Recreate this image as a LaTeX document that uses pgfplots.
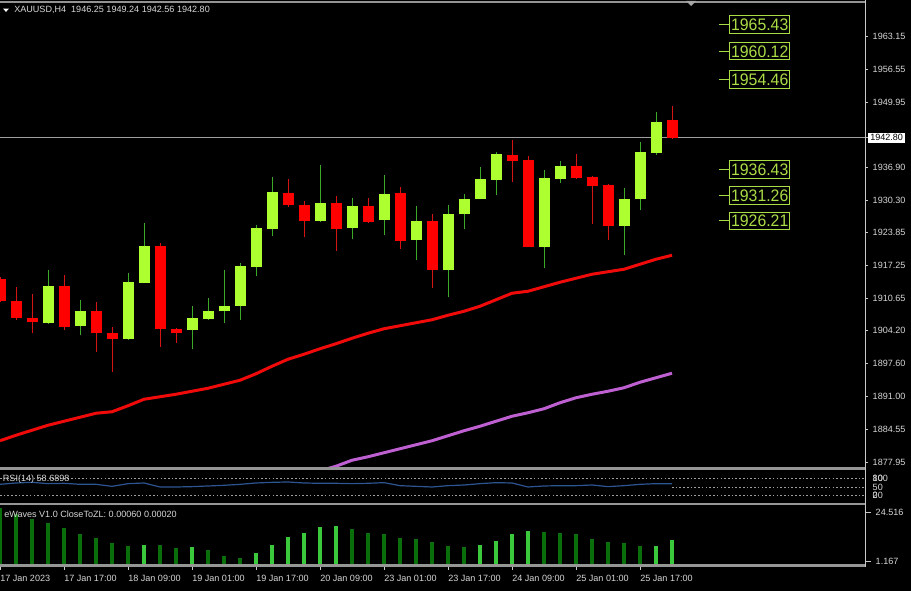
\documentclass[border=0pt]{standalone}
\usepackage{fontspec}
\setmainfont{Liberation Sans}
\newfontfamily\lvlfont[FakeStretch=0.95]{Liberation Sans}
\usepackage{pgfplots}
\pgfplotsset{compat=1.18}
\usepackage{pgfplotstable}

\definecolor{bullfill}{RGB}{173,255,47}
\definecolor{bullwick}{RGB}{60,170,40}
\definecolor{bearfill}{RGB}{255,0,0}
\definecolor{bearwick}{RGB}{215,20,20}
\definecolor{maA}{RGB}{240,10,10}
\definecolor{maB}{RGB}{190,95,210}
\definecolor{lvl}{RGB}{170,220,70}
\definecolor{sep}{RGB}{150,150,150}
\definecolor{axgray}{RGB}{200,200,200}
\definecolor{txt}{RGB}{215,215,215}
\definecolor{rsiblue}{RGB}{45,85,145}
\definecolor{histlight}{RGB}{60,200,60}
\definecolor{histdark}{RGB}{10,110,10}

% candles, x = bar index (16 px apart)
\pgfplotstableread{
x  o       h       l       c
3  1905.69 1916.35 1905.55 1913.15
5  1905.09 1910.35 1903.29 1908.21
8  1902.49 1915.69 1902.35 1914.01
9  1913.81 1925.81 1913.65 1921.15
12 1904.35 1909.15 1900.49 1906.81
13 1906.49 1910.75 1906.35 1908.21
14 1908.09 1916.35 1905.81 1909.15
15 1909.21 1917.69 1906.35 1917.15
16 1917.01 1925.35 1915.15 1924.75
17 1924.61 1935.01 1923.15 1932.01
20 1926.21 1937.35 1926.01 1929.81
22 1924.81 1930.75 1922.49 1929.15
24 1926.29 1935.35 1923.41 1931.55
26 1922.29 1929.15 1918.35 1926.15
28 1916.29 1929.35 1910.89 1927.55
29 1927.49 1931.55 1924.49 1930.55
30 1930.55 1937.01 1930.45 1934.55
31 1934.41 1940.01 1931.35 1939.61
34 1920.89 1936.35 1916.69 1934.75
35 1934.61 1938.15 1933.81 1937.15
39 1925.21 1932.69 1919.35 1930.55
40 1930.49 1942.01 1928.35 1939.95
41 1939.81 1947.89 1939.41 1945.95
}\bull

\pgfplotstableread{
x  o       h       l       c
0  1914.55 1914.95 1909.95 1910.21
1  1910.21 1912.89 1906.35 1906.69
2  1906.75 1911.55 1903.69 1905.89
4  1913.15 1915.35 1904.35 1905.01
6  1908.21 1910.01 1900.01 1903.69
7  1903.81 1904.89 1896.01 1902.49
10 1921.15 1921.69 1901.01 1904.49
11 1904.61 1904.75 1901.81 1903.69
18 1931.81 1934.55 1929.01 1929.41
19 1929.41 1930.15 1922.89 1926.21
21 1929.81 1931.15 1920.21 1924.61
23 1929.21 1930.75 1925.81 1925.95
25 1931.81 1933.01 1920.61 1922.21
27 1926.21 1927.55 1912.81 1916.29
32 1939.41 1942.35 1934.01 1938.21
33 1938.35 1939.21 1920.95 1921.01
36 1937.21 1939.55 1934.55 1934.75
37 1934.95 1935.15 1925.49 1933.21
38 1933.41 1933.49 1922.35 1925.15
42 1946.25 1949.24 1942.56 1942.80
}\bear

\pgfplotstableread{
i v
0 1882.2
1 1883.3
2 1884.3
3 1885.3
4 1886.1
5 1886.9
6 1887.7
7 1888.0
8 1889.2
9 1890.5
10 1891.0
11 1891.5
12 1892.1
13 1892.7
14 1893.5
15 1894.3
16 1895.6
17 1897.1
18 1898.5
19 1899.5
20 1900.6
21 1901.6
22 1902.7
23 1903.7
24 1904.6
25 1905.2
26 1905.8
27 1906.4
28 1907.3
29 1908.1
30 1909.1
31 1910.4
32 1911.7
33 1912.1
34 1913.0
35 1913.9
36 1914.7
37 1915.5
38 1916.0
39 1916.5
40 1917.5
41 1918.5
42 1919.3
}\maFast

\pgfplotstableread{
i v
20 1876.2
21 1877.1
22 1878.3
23 1879.0
24 1879.8
25 1880.6
26 1881.4
27 1882.2
28 1883.2
29 1884.2
30 1885.1
31 1886.1
32 1887.1
33 1887.8
34 1888.6
35 1889.8
36 1890.8
37 1891.5
38 1892.1
39 1892.8
40 1893.9
41 1894.8
42 1895.7
}\maSlow

\pgfplotstableread{
x       y       t
45.5625 1965.43 1965.43
45.5625 1960.12 1960.12
45.5625 1954.46 1954.46
45.5625 1936.43 1936.43
45.5625 1931.26 1931.26
45.5625 1926.21 1926.21
}\levels

\pgfplotstableread{
i r
0 59.2
1 63.8
2 66.1
3 61.5
4 62.7
5 59.2
6 59.2
7 52.3
8 61.5
9 63.8
10 50.0
11 50.0
12 51.2
13 53.5
14 55.8
15 59.2
16 63.8
17 66.1
18 67.3
19 63.8
20 62.7
21 62.7
22 61.5
23 62.7
24 65.0
25 54.6
26 52.3
27 50.0
28 54.6
29 56.9
30 61.5
31 65.0
32 63.8
33 50.0
34 53.5
35 54.6
36 54.6
37 56.9
38 51.2
39 54.6
40 59.2
41 61.5
42 61.5
}\rsi

\pgfplotstableread{
i v
9 8.4
12 7.3
16 4.7
17 8.4
18 11.9
19 13.5
20 16.3
21 16.7
30 8.4
31 10.0
32 13.1
33 14.4
41 8.0
42 10.4
}\wavesUp

\pgfplotstableread{
i v
0 24.5
1 21.9
2 19.7
3 17.9
4 15.7
5 13.1
6 11.3
7 9.1
8 7.8
10 8.3
11 6.9
13 6.0
14 3.4
15 2.5
22 15.4
23 13.5
24 13.1
25 11.3
26 10.9
27 9.5
28 7.8
29 7.3
34 13.9
35 13.5
36 13.1
37 10.9
38 9.5
39 9.1
40 7.8
}\wavesDown

\pgfplotsset{
  mt4/.style={
    scale only axis, width=648.75pt, anchor=south west,
    xmin=0, xmax=54.0625,
    axis y line*=right,
    y axis line style={draw=none},
    ytick pos=right, yticklabel pos=right, tick align=outside,
    major tick length=2.25pt,
    tick style={axgray, line width=0.6pt},
    tick label style={font=\fontsize{6.8}{8}\selectfont, text=txt},
    /pgf/number format/assume math mode=true,
    /pgf/number format/fixed, /pgf/number format/fixed zerofill,
    /pgf/number format/precision=2, /pgf/number format/1000 sep={},
  },
  wick/.style={draw=none, mark=none, forget plot,
    error bars/.cd, y dir=plus, y explicit, error mark=none,
    error bar style={draw=#1, line width=0.75pt}},
  body/.style={draw=none, mark=none, forget plot,
    error bars/.cd, y dir=plus, y explicit, error mark=none,
    error bar style={draw=#1, line width=8.25pt}},
}

\begin{document}
\begin{tikzpicture}
\fill[black] (0,0) rectangle (683.25pt,-443.25pt);

% price panel
\begin{axis}[mt4, axis x line=none, at={(0pt,-350.25pt)}, height=346.5pt,
  ymin=1876.95, ymax=1969.35,
  ytick={1877.95,1884.55,1891.00,1897.60,1904.20,1910.65,1917.25,1923.85,1930.30,1936.90,1949.95,1956.55,1963.15},
  extra y ticks={1942.80},
  extra y tick style={yticklabel style={fill=white, text=black, inner xsep=1.5pt, inner ysep=1.2pt}},
]
\addplot[gray!75, line width=0.75pt] coordinates {(0,1942.80) (54.0625,1942.80)};
\addplot[maA, line width=2.25pt, line join=round] table[x=i, y=v] {\maFast};
\addplot[maB, line width=2.25pt, line join=round] table[x=i, y=v] {\maSlow};
\addplot[wick=bullwick] table[x=x, y=l, y error expr=\thisrow{h}-\thisrow{l}] {\bull};
\addplot[wick=bearwick] table[x=x, y=l, y error expr=\thisrow{h}-\thisrow{l}] {\bear};
\addplot[body=bullfill] table[x=x, y=o, y error expr=\thisrow{c}-\thisrow{o}] {\bull};
\addplot[body=bearfill] table[x=x, y=c, y error expr=\thisrow{o}-\thisrow{c}] {\bear};
\addplot[draw=none, mark=none, nodes near coords, point meta=explicit symbolic,
  every node near coord/.style={anchor=west, draw=lvl, text=lvl, line width=0.75pt,
    font=\lvlfont\fontsize{12.5}{13}\selectfont, inner xsep=1.2pt, inner ysep=2pt,
    text height=9pt, text depth=0pt,
    label={[inner sep=0pt]west:{\textcolor{lvl}{\rule{7.5pt}{0.75pt}}}}}]
  table[x=x, y=y, meta=t] {\levels};
\end{axis}

% RSI panel
\begin{axis}[mt4, axis x line=none, at={(0pt,-376.875pt)}, height=24.375pt,
  ymin=-3.45, ymax=108.6,
  ytick={80,50,20}, yticklabels={80,50,20},
  extra y ticks={80,20}, extra y tick labels={100,0},
  major tick style={draw=none},
]
\addplot[gray!75, line width=0.6pt, dash pattern=on 1.2pt off 1.6pt] coordinates {(0,80) (54.0625,80)};
\addplot[gray!75, line width=0.6pt, dash pattern=on 1.2pt off 1.6pt] coordinates {(0,20) (54.0625,20)};
\addplot[gray!75, line width=0.6pt, dash pattern=on 1.2pt off 1.6pt] coordinates {(42,50) (54.0625,50)};
\addplot[rsiblue, line width=0.9pt] table[x=i, y=r] {\rsi};
\end{axis}

% eWaves panel
\begin{axis}[mt4, at={(0pt,-423pt)}, height=44.25pt,
  ymin=0, ymax=25.96,
  ytick={22.9,1.3}, yticklabels={24.516,1.167},
  axis x line*=bottom, x axis line style={draw=none},
  major tick length=4.5pt,
  xtick={0,4,...,40},
  xticklabels={17 Jan 2023, 17 Jan 17:00, 18 Jan 09:00, 19 Jan 01:00, 19 Jan 17:00, 20 Jan 09:00, 23 Jan 01:00, 23 Jan 17:00, 24 Jan 09:00, 25 Jan 01:00, 25 Jan 17:00},
  xticklabel style={anchor=north west, inner xsep=0pt},
]
\addplot[ycomb, histdark, line width=3.2pt] table[x=i, y=v] {\wavesDown};
\addplot[ycomb, histlight, line width=3.2pt] table[x=i, y=v] {\wavesUp};
\end{axis}

% frame: separators and price scale line
\fill[sep] (0pt,-350.25pt) rectangle (649pt,-352.5pt);
\fill[sep] (0pt,-376.9pt) rectangle (649pt,-378.75pt);
\fill[sep] (0pt,-423pt) rectangle (649pt,-424.9pt);
\draw[gray!85, line width=1pt] (0pt,-1.4pt) -- (649pt,-1.4pt);
\draw[axgray, line width=0.75pt] (649.1pt,0pt) -- (649.1pt,-425.25pt);
\fill[gray!70] (514.5pt,-0.75pt) -- (522pt,-0.75pt) -- (518.25pt,-4.5pt) -- cycle;
\fill[white] (2.25pt,-6.4pt) -- (6.75pt,-6.4pt) -- (4.5pt,-8.9pt) -- cycle;

\node[anchor=west, text=txt, font=\fontsize{6.8}{8}\selectfont, inner sep=0pt]
  at (10.5pt,-7.6pt) {XAUUSD,H4\ \ 1946.25 1949.24 1942.56 1942.80};
\node[anchor=west, text=txt, font=\fontsize{6.8}{8}\selectfont, inner sep=0pt]
  at (2pt,-359.3pt) {RSI(14) 58.6898};
\node[anchor=west, text=txt, font=\fontsize{6.8}{8}\selectfont, inner sep=0pt]
  at (3pt,-385.5pt) {eWaves V1.0 CloseToZL: 0.00060 0.00020};

\pgfresetboundingbox
\useasboundingbox (0,0) rectangle (683.25pt,-443.25pt);
\end{tikzpicture}
\end{document}
